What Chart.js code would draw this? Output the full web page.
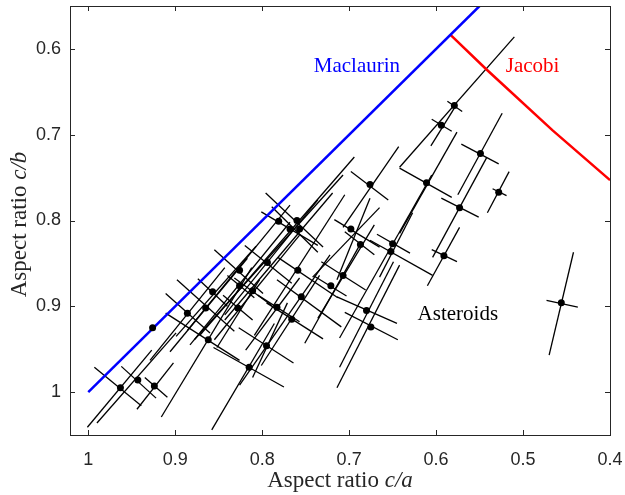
<!DOCTYPE html>
<html>
<head>
<meta charset="utf-8">
<script src="https://cdn.jsdelivr.net/npm/chart.js@4.4.1/dist/chart.umd.min.js"></script>
<style>
  html, body { margin: 0; padding: 0; background: #fff; }
  #wrap { width: 625px; height: 495px; }
</style>
</head>
<body>
<div id="wrap"><canvas id="shapeChart" width="625" height="495"></canvas></div>
<script>
// Asteroid shapes: c/a (x) and c/b (y)
const caRatio = [0.963, 0.943, 0.924, 0.926, 0.886, 0.865, 0.857, 0.862, 0.826, 0.826,
                 0.811, 0.828, 0.794, 0.795, 0.815, 0.781, 0.783, 0.760, 0.768, 0.757,
                 0.759, 0.755, 0.766, 0.721, 0.707, 0.698, 0.687, 0.676, 0.650, 0.652,
                 0.680, 0.675, 0.611, 0.579, 0.594, 0.549, 0.528, 0.573, 0.591, 0.456];
const cbRatio = [0.995, 0.986, 0.993, 0.925, 0.908, 0.902, 0.883, 0.939, 0.858, 0.876,
                 0.882, 0.902, 0.849, 0.946, 0.971, 0.801, 0.901, 0.800, 0.810, 0.810,
                 0.858, 0.889, 0.915, 0.876, 0.864, 0.810, 0.828, 0.758, 0.827, 0.836,
                 0.905, 0.924, 0.756, 0.666, 0.689, 0.722, 0.767, 0.785, 0.841, 0.896];

// error bar ends [c/a, c/b]; null = no bars
const longLo = [[1.001,1.041],[0.990,1.036],[0.944,1.020],null,[0.929,0.963],[0.906,0.953],[0.899,0.935],[0.916,1.029],[0.886,0.928],[0.883,0.945],
                [0.855,0.939],[0.852,0.948],[0.843,0.910],[0.811,0.983],[0.858,1.044],null,[0.819,0.951],[0.872,0.934],[0.878,0.939],[0.843,0.916],
                [0.809,0.934],[0.826,0.992],[0.801,0.969],[0.751,0.943],[0.736,0.914],[0.742,0.866],[0.714,0.869],[0.707,0.808],[0.665,0.866],[0.711,0.937],
                [0.711,0.971],[0.714,0.995],[0.642,0.815],[0.642,0.738],[0.606,0.713],[0.575,0.770],[0.541,0.791],[0.604,0.843],[0.610,0.876],[0.470,0.957]];
const longHi = [[0.927,0.951],[0.899,0.931],[0.902,0.966],null,[0.843,0.855],[0.817,0.844],[0.807,0.830],[0.812,0.855],[0.768,0.782],[0.768,0.802],
                [0.757,0.817],[0.803,0.869],[0.736,0.776],[0.771,0.896],[0.786,0.920],null,[0.757,0.867],[0.694,0.726],[0.707,0.747],[0.719,0.768],
                [0.705,0.770],[0.722,0.840],[0.734,0.864],[0.688,0.829],[0.671,0.805],[0.665,0.785],[0.676,0.774],[0.643,0.714],[0.627,0.791],[0.605,0.747],
                [0.649,0.848],[0.642,0.852],[0.576,0.697],[0.510,0.586],[0.579,0.669],[0.524,0.675],[0.516,0.743],[0.542,0.727],[0.573,0.808],[0.442,0.837]];
const shortLo = [[0.993,0.971],[0.962,0.970],[0.935,0.983],null,[0.911,0.885],[0.898,0.869],[0.874,0.868],[0.911,0.908],[0.855,0.834],[0.840,0.864],
                 [0.832,0.867],[0.845,0.887],[0.820,0.829],[0.827,0.925],[0.856,0.948],null,[0.805,0.887],[0.796,0.768],[0.789,0.784],[0.801,0.790],
                 [0.782,0.843],[0.783,0.869],[0.795,0.896],[0.740,0.865],[0.732,0.848],[0.717,0.799],[0.705,0.813],[0.698,0.743],[0.668,0.816],[0.676,0.823],
                 [0.714,0.889],[0.705,0.907],[0.642,0.739],[0.587,0.661],[0.605,0.682],[0.571,0.711],[0.535,0.763],[0.594,0.774],[0.605,0.834],[0.473,0.893]];
const shortHi = [[0.939,1.016],[0.922,1.007],[0.909,1.006],null,[0.860,0.931],[0.832,0.929],[0.840,0.900],[0.826,0.963],[0.799,0.885],[0.809,0.890],
                 [0.789,0.899],[0.811,0.916],[0.766,0.873],[0.764,0.966],[0.775,0.994],null,[0.757,0.918],[0.730,0.831],[0.736,0.837],[0.736,0.829],
                 [0.713,0.890],[0.709,0.924],[0.730,0.938],[0.703,0.888],[0.681,0.881],[0.665,0.831],[0.671,0.840],[0.655,0.776],[0.630,0.838],[0.604,0.864],
                 [0.645,0.920],[0.644,0.939],[0.582,0.773],[0.570,0.673],[0.582,0.696],[0.528,0.734],[0.519,0.771],[0.551,0.796],[0.576,0.848],[0.437,0.901]];

// equilibrium sequences
const maclaurinCa = [1.0, 0.55];
const maclaurinCb = [1.0, 0.55];
const jacobiCa = [0.584, 0.542, 0.466, 0.400];
const jacobiCb = [0.583, 0.624, 0.695, 0.753];

const xTicks = [1, 0.9, 0.8, 0.7, 0.6, 0.5, 0.4];
const yTicks = [0.6, 0.7, 0.8, 0.9, 1];

const toPts = (xs, ys) => xs.map((v, i) => ({x: v, y: ys[i]}));

const datasets = [];
// dots on top
datasets.push({
    data: toPts(caRatio, cbRatio),
    showLine: false,
    pointRadius: 3.5,
    pointBackgroundColor: '#000',
    pointBorderWidth: 0
});
datasets.push({
    data: toPts(maclaurinCa, maclaurinCb),
    showLine: true, borderColor: '#0000ff', borderWidth: 2.5, pointRadius: 0
});
datasets.push({
    data: toPts(jacobiCa, jacobiCb),
    showLine: true, borderColor: '#ff0000', borderWidth: 2.5, pointRadius: 0
});
[[longLo, longHi], [shortLo, shortHi]].forEach(([lo, hi]) => {
    lo.forEach((p, i) => {
        if (!p) return;
        datasets.push({
            data: [{x: p[0], y: p[1]}, {x: hi[i][0], y: hi[i][1]}],
            showLine: true, borderColor: '#000', borderWidth: 1.3, pointRadius: 0
        });
    });
});

// box, inward ticks, labels
const decorate = {
    id: 'decorate',
    afterDraw(chart) {
        const {ctx, chartArea: a, scales: {x, y}} = chart;
        ctx.save();
        ctx.strokeStyle = '#262626';
        ctx.lineWidth = 1;
        ctx.strokeRect(a.left + 0.5, a.top + 0.5, a.right - a.left, a.bottom - a.top);
        ctx.beginPath();
        xTicks.forEach(v => {
            const px = Math.round(x.getPixelForValue(v)) + 0.5;
            ctx.moveTo(px, a.bottom); ctx.lineTo(px, a.bottom - 5);
            ctx.moveTo(px, a.top); ctx.lineTo(px, a.top + 5);
        });
        yTicks.forEach(v => {
            const py = Math.round(y.getPixelForValue(v)) + 0.5;
            ctx.moveTo(a.left, py); ctx.lineTo(a.left + 5, py);
            ctx.moveTo(a.right, py); ctx.lineTo(a.right - 5, py);
        });
        ctx.stroke();

        // curve labels
        ctx.textAlign = 'center';
        ctx.textBaseline = 'middle';
        ctx.font = '21px "Liberation Serif", serif';
        ctx.fillStyle = '#0000ff';
        ctx.fillText('Maclaurin', x.getPixelForValue(0.691), y.getPixelForValue(0.620));
        ctx.fillStyle = '#ff0000';
        ctx.fillText('Jacobi', x.getPixelForValue(0.489), y.getPixelForValue(0.620));
        ctx.fillStyle = '#000';
        ctx.fillText('Asteroids', x.getPixelForValue(0.575), y.getPixelForValue(0.909));

        // axis titles with italic ratio
        const title = (head, tail, cx, cy, rot) => {
            ctx.save();
            ctx.translate(cx, cy);
            ctx.rotate(rot);
            ctx.fillStyle = '#262626';
            ctx.textAlign = 'left';
            ctx.font = '23px "Liberation Serif", serif';
            const w1 = ctx.measureText(head).width;
            ctx.font = 'italic 23px "Liberation Serif", serif';
            const w2 = ctx.measureText(tail).width;
            let sx = -(w1 + w2) / 2;
            ctx.font = '23px "Liberation Serif", serif';
            ctx.fillText(head, sx, 0);
            ctx.font = 'italic 23px "Liberation Serif", serif';
            ctx.fillText(tail, sx + w1, 0);
            ctx.restore();
        };
        title('Aspect ratio ', 'c/a', (a.left + a.right) / 2, 481, 0);
        title('Aspect ratio ', 'c/b', 20, (a.top + a.bottom) / 2 + 4, -Math.PI / 2);
        ctx.restore();
    }
};

const tickFont = {family: '"Liberation Sans", Arial, sans-serif', size: 18};
const fmt = v => String(Math.round(v * 10) / 10);
const noPad = s => { s.paddingLeft = 0; s.paddingRight = 0; s.paddingTop = 0; s.paddingBottom = 0; };

new Chart(document.getElementById('shapeChart').getContext('2d'), {
    type: 'scatter',
    data: {datasets: datasets},
    options: {
        responsive: false,
        animation: false,
        events: [],
        layout: {padding: {left: 0, right: 15, top: 6, bottom: 0}},
        plugins: {legend: {display: false}, tooltip: {enabled: false}},
        scales: {
            x: {
                type: 'linear', reverse: true, min: 0.4, max: 1.021,
                grid: {display: false, drawTicks: false},
                border: {display: false},
                afterBuildTicks: s => { s.ticks = xTicks.map(v => ({value: v})); },
                afterFit: s => { s.height = 60; noPad(s); },
                ticks: {font: tickFont, color: '#262626', padding: 14, maxRotation: 0, callback: fmt}
            },
            y: {
                type: 'linear', reverse: true, min: 0.55, max: 1.05,
                grid: {display: false, drawTicks: false},
                border: {display: false},
                afterBuildTicks: s => { s.ticks = yTicks.map(v => ({value: v})); },
                afterFit: s => { s.width = 70; noPad(s); },
                ticks: {font: tickFont, color: '#262626', padding: 9, callback: fmt}
            }
        }
    },
    plugins: [decorate]
});
</script>
</body>
</html>
